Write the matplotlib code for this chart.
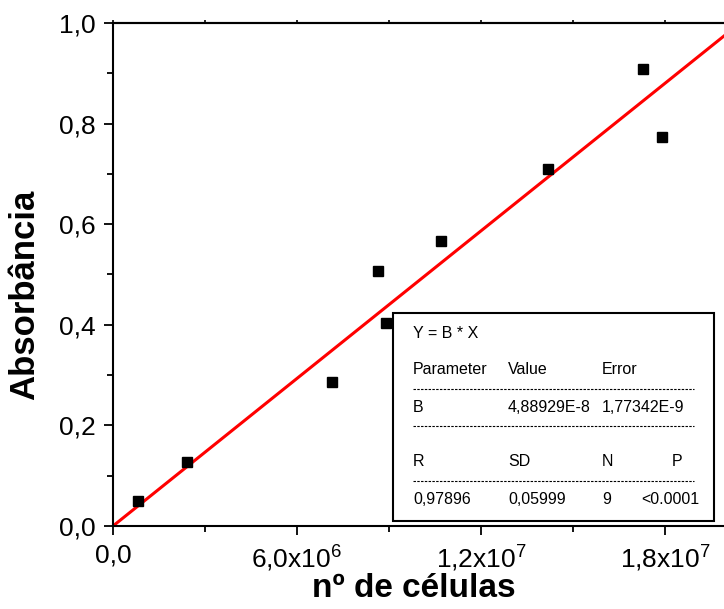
import matplotlib
matplotlib.use("Agg")
import matplotlib.pyplot as plt
from matplotlib.patches import Rectangle
import numpy as np

plt.rcParams['font.family'] = ['Liberation Sans', 'DejaVu Sans']
plt.rcParams['mathtext.fontset'] = 'custom'
plt.rcParams['mathtext.rm'] = 'Liberation Sans'

# measured points (cells, absorbance)
cells = [0.81e6, 2.40e6, 7.15e6, 8.64e6, 8.91e6, 10.7e6, 14.2e6, 17.28e6, 17.9e6]
absorb = [0.049, 0.128, 0.287, 0.507, 0.403, 0.567, 0.710, 0.909, 0.773]

# fit Y = B * X
slope_b = 4.88929e-8

xtick_vals = [0, 6e6, 1.2e7, 1.8e7]
xtick_labels = ['0,0', r'$\mathregular{6{,}0x10^{6}}$', r'$\mathregular{1{,}2x10^{7}}$',
                r'$\mathregular{1{,}8x10^{7}}$']
ytick_vals = [0.0, 0.2, 0.4, 0.6, 0.8, 1.0]
ytick_labels = ['0,0', '0,2', '0,4', '0,6', '0,8', '1,0']

fit_rows = [
    ['Parameter', 'Value', 'Error'],
    ['B', '4,88929E-8', '1,77342E-9'],
]
stat_rows = [
    ['R', 'SD', 'N', 'P'],
    ['0,97896', '0,05999', '9', '<0.0001'],
]

W, H = 724, 609


def fx(px):
    return px / W


def fy(py):
    return 1 - py / H


fig = plt.figure(figsize=(7.24, 6.09), dpi=100)
ax = fig.add_axes([fx(113), fy(526), (726.3 - 113) / W, (526 - 23) / H])

xline = np.array([0, 2e7])
ax.plot(xline, slope_b * xline, color='red', lw=2.2, zorder=2)
ax.plot(cells, absorb, 's', color='black', markersize=6.5, zorder=3)

ax.set_xlim(0, 2e7)
ax.set_ylim(0, 1.0)
ax.set_xticks(xtick_vals)
ax.set_xticklabels(xtick_labels)
ax.set_xticks(np.arange(3e6, 2e7, 6e6), minor=True)
ax.set_yticks(ytick_vals)
ax.set_yticklabels(ytick_labels)
ax.set_yticks(np.arange(0.1, 1.0, 0.2), minor=True)

for s in ax.spines.values():
    s.set_linewidth(1.5)
ax.tick_params(which='major', direction='out', length=6.5, width=1.3,
               labelsize=19)
ax.tick_params(which='minor', direction='out', length=4, width=1.3)
ax.tick_params(axis='x', which='major', pad=6)
ax.tick_params(axis='y', which='major', pad=6)

# tiny ticks on the top edge
top = ax.secondary_xaxis('top')
top.set_xticks(np.arange(0, 2e7, 3e6))
top.tick_params(length=2, width=1.2, labeltop=False)
top.spines['top'].set_linewidth(1.5)

ax.set_xlabel('nº de células', fontsize=24, fontweight='bold')
ax.set_ylabel('Absorbância', fontsize=25, fontweight='bold')
ax.xaxis.set_label_coords(0.49, -0.094)
ax.yaxis.set_label_coords(-0.117, 0.46)

# fit results box
box = Rectangle((fx(393), fy(521)), fx(714) - fx(393), fy(313) - fy(521),
                transform=fig.transFigure, facecolor='white', edgecolor='black',
                lw=1.5, zorder=5)
fig.patches.append(box)

fs = 11.5
fig.text(fx(413), fy(333), 'Y = B * X', fontsize=fs, va='center', zorder=6)
col_x = [413, 508, 602]
for row, py in zip(fit_rows, [370, 407]):
    for txt, px in zip(row, col_x):
        fig.text(fx(px), fy(py), txt, fontsize=fs, va='center', zorder=6)

stat_x = [413, 508, 602]
for row, py, p_right in zip(stat_rows, [462, 499], [682, 699]):
    for txt, px in zip(row[:3], stat_x):
        fig.text(fx(px), fy(py), txt, fontsize=fs, va='center', zorder=6)
    fig.text(fx(p_right), fy(py), row[3], fontsize=fs, va='center',
             ha='right', zorder=6)

for py in [389, 426, 481]:
    fig.add_artist(plt.Line2D([fx(413), fx(694)], [fy(py), fy(py)],
                              transform=fig.transFigure, color='black',
                              lw=0.8, dashes=(2.2, 1.2), zorder=6))

fig.savefig('out.png', dpi=100)
